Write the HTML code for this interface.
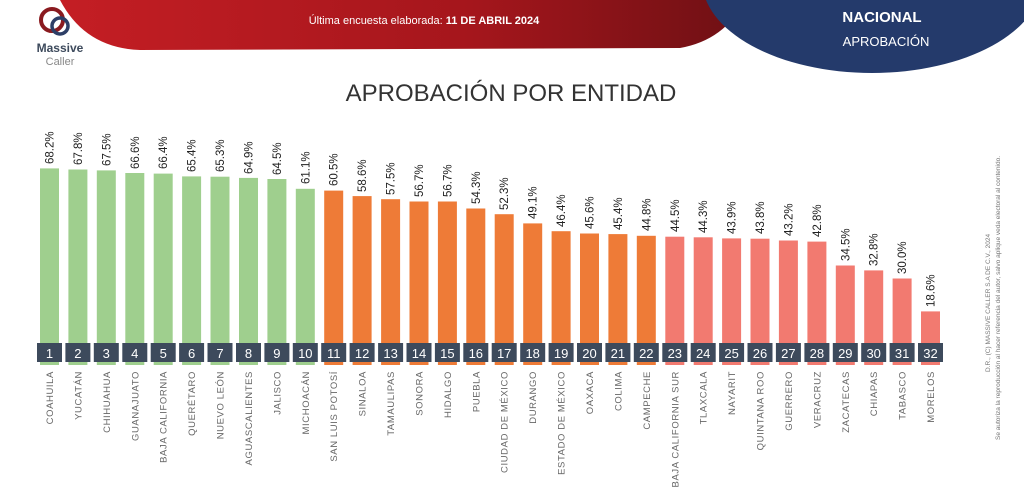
<!DOCTYPE html>
<html><head><meta charset="utf-8"><style>
html,body{margin:0;padding:0;background:#fff;}
svg{display:block;font-family:"Liberation Sans",sans-serif;}
</style></head><body>
<svg width="1024" height="492" viewBox="0 0 1024 492" xmlns="http://www.w3.org/2000/svg">
<defs>
<linearGradient id="rg" x1="0" x2="1" y1="0" y2="0">
<stop offset="0" stop-color="#c41e24"/><stop offset="0.6" stop-color="#a5161c"/><stop offset="1" stop-color="#6e1014"/></linearGradient>
</defs>
<rect width="1024" height="492" fill="#fff"/>
<path d="M60,0 L745,0 Q725,40 680,48 L140,50 Q85,48 60,0 Z" fill="url(#rg)"/>
<ellipse cx="872" cy="-20" rx="170" ry="93" fill="#243a6b"/>
<text x="424" y="24" fill="#fff" font-size="11" text-anchor="middle">Última encuesta elaborada:  <tspan font-weight="bold">11 DE ABRIL 2024</tspan></text>
<text x="882" y="22" fill="#fff" font-size="15" font-weight="bold" text-anchor="middle">NACIONAL</text>
<text x="886" y="46" fill="#fff" font-size="13" text-anchor="middle">APROBACIÓN</text>
<circle cx="52" cy="20" r="11" fill="none" stroke="#8a1a1f" stroke-width="4"/>
<circle cx="60" cy="26" r="8" fill="none" stroke="#2d3e66" stroke-width="3.5"/>
<text x="60" y="52" font-size="12" font-weight="bold" fill="#3d4a5c" text-anchor="middle">Massive</text>
<text x="60" y="65" font-size="11" fill="#888" text-anchor="middle">Caller</text>
<text x="511" y="101" font-size="24" fill="#333" text-anchor="middle">APROBACIÓN POR ENTIDAD</text>
<text transform="translate(990,372) rotate(-90)" font-size="6.5" fill="#777">D.R., (C) MASSIVE CALLER S.A DE C.V., 2024</text>
<text transform="translate(1000,440) rotate(-90)" font-size="6.5" fill="#777">Se autoriza la reproducción al hacer referencia del autor, salvo aplique veda electoral al contenido.</text>
<g id="bars">
<rect x="40.0" y="168.4" width="19" height="196.6" fill="#9fcf8e"/>
<rect x="68.4" y="169.5" width="19" height="195.5" fill="#9fcf8e"/>
<rect x="96.8" y="170.4" width="19" height="194.6" fill="#9fcf8e"/>
<rect x="125.3" y="173.0" width="19" height="192.0" fill="#9fcf8e"/>
<rect x="153.7" y="173.6" width="19" height="191.4" fill="#9fcf8e"/>
<rect x="182.1" y="176.4" width="19" height="188.6" fill="#9fcf8e"/>
<rect x="210.5" y="176.7" width="19" height="188.3" fill="#9fcf8e"/>
<rect x="239.0" y="177.9" width="19" height="187.1" fill="#9fcf8e"/>
<rect x="267.4" y="179.0" width="19" height="186.0" fill="#9fcf8e"/>
<rect x="295.8" y="188.8" width="19" height="176.2" fill="#9fcf8e"/>
<rect x="324.2" y="190.6" width="19" height="174.4" fill="#ee7b37"/>
<rect x="352.6" y="196.1" width="19" height="168.9" fill="#ee7b37"/>
<rect x="381.1" y="199.2" width="19" height="165.8" fill="#ee7b37"/>
<rect x="409.5" y="201.5" width="19" height="163.5" fill="#ee7b37"/>
<rect x="437.9" y="201.5" width="19" height="163.5" fill="#ee7b37"/>
<rect x="466.3" y="208.5" width="19" height="156.5" fill="#ee7b37"/>
<rect x="494.7" y="214.2" width="19" height="150.8" fill="#ee7b37"/>
<rect x="523.2" y="223.4" width="19" height="141.6" fill="#ee7b37"/>
<rect x="551.6" y="231.2" width="19" height="133.8" fill="#ee7b37"/>
<rect x="580.0" y="233.5" width="19" height="131.5" fill="#ee7b37"/>
<rect x="608.4" y="234.1" width="19" height="130.9" fill="#ee7b37"/>
<rect x="636.8" y="235.8" width="19" height="129.2" fill="#ee7b37"/>
<rect x="665.3" y="236.7" width="19" height="128.3" fill="#f27a70"/>
<rect x="693.7" y="237.3" width="19" height="127.7" fill="#f27a70"/>
<rect x="722.1" y="238.4" width="19" height="126.6" fill="#f27a70"/>
<rect x="750.5" y="238.7" width="19" height="126.3" fill="#f27a70"/>
<rect x="778.9" y="240.5" width="19" height="124.5" fill="#f27a70"/>
<rect x="807.4" y="241.6" width="19" height="123.4" fill="#f27a70"/>
<rect x="835.8" y="265.5" width="19" height="99.5" fill="#f27a70"/>
<rect x="864.2" y="270.4" width="19" height="94.6" fill="#f27a70"/>
<rect x="892.6" y="278.5" width="19" height="86.5" fill="#f27a70"/>
<rect x="921.0" y="311.4" width="19" height="53.6" fill="#f27a70"/>
</g>
<g fill="#222" font-size="11.5">
<text transform="translate(53.5,164) rotate(-90)">68.2%</text>
<text transform="translate(81.9,165) rotate(-90)">67.8%</text>
<text transform="translate(110.3,166) rotate(-90)">67.5%</text>
<text transform="translate(138.8,169) rotate(-90)">66.6%</text>
<text transform="translate(167.2,169) rotate(-90)">66.4%</text>
<text transform="translate(195.6,172) rotate(-90)">65.4%</text>
<text transform="translate(224.0,172) rotate(-90)">65.3%</text>
<text transform="translate(252.5,174) rotate(-90)">64.9%</text>
<text transform="translate(280.9,175) rotate(-90)">64.5%</text>
<text transform="translate(309.3,184) rotate(-90)">61.1%</text>
<text transform="translate(337.7,186) rotate(-90)">60.5%</text>
<text transform="translate(366.1,192) rotate(-90)">58.6%</text>
<text transform="translate(394.6,195) rotate(-90)">57.5%</text>
<text transform="translate(423.0,197) rotate(-90)">56.7%</text>
<text transform="translate(451.4,197) rotate(-90)">56.7%</text>
<text transform="translate(479.8,204) rotate(-90)">54.3%</text>
<text transform="translate(508.2,210) rotate(-90)">52.3%</text>
<text transform="translate(536.7,219) rotate(-90)">49.1%</text>
<text transform="translate(565.1,227) rotate(-90)">46.4%</text>
<text transform="translate(593.5,229) rotate(-90)">45.6%</text>
<text transform="translate(621.9,230) rotate(-90)">45.4%</text>
<text transform="translate(650.3,231) rotate(-90)">44.8%</text>
<text transform="translate(678.8,232) rotate(-90)">44.5%</text>
<text transform="translate(707.2,233) rotate(-90)">44.3%</text>
<text transform="translate(735.6,234) rotate(-90)">43.9%</text>
<text transform="translate(764.0,234) rotate(-90)">43.8%</text>
<text transform="translate(792.4,236) rotate(-90)">43.2%</text>
<text transform="translate(820.9,237) rotate(-90)">42.8%</text>
<text transform="translate(849.3,261) rotate(-90)">34.5%</text>
<text transform="translate(877.7,266) rotate(-90)">32.8%</text>
<text transform="translate(906.1,274) rotate(-90)">30.0%</text>
<text transform="translate(934.5,307) rotate(-90)">18.6%</text>
</g>
<g fill="#3d4a5c">
<rect x="37.0" y="343" width="25" height="19"/><rect x="65.4" y="343" width="25" height="19"/><rect x="93.8" y="343" width="25" height="19"/><rect x="122.3" y="343" width="25" height="19"/><rect x="150.7" y="343" width="25" height="19"/><rect x="179.1" y="343" width="25" height="19"/><rect x="207.5" y="343" width="25" height="19"/><rect x="236.0" y="343" width="25" height="19"/><rect x="264.4" y="343" width="25" height="19"/><rect x="292.8" y="343" width="25" height="19"/><rect x="321.2" y="343" width="25" height="19"/><rect x="349.6" y="343" width="25" height="19"/><rect x="378.1" y="343" width="25" height="19"/><rect x="406.5" y="343" width="25" height="19"/><rect x="434.9" y="343" width="25" height="19"/><rect x="463.3" y="343" width="25" height="19"/><rect x="491.7" y="343" width="25" height="19"/><rect x="520.2" y="343" width="25" height="19"/><rect x="548.6" y="343" width="25" height="19"/><rect x="577.0" y="343" width="25" height="19"/><rect x="605.4" y="343" width="25" height="19"/><rect x="633.8" y="343" width="25" height="19"/><rect x="662.3" y="343" width="25" height="19"/><rect x="690.7" y="343" width="25" height="19"/><rect x="719.1" y="343" width="25" height="19"/><rect x="747.5" y="343" width="25" height="19"/><rect x="775.9" y="343" width="25" height="19"/><rect x="804.4" y="343" width="25" height="19"/><rect x="832.8" y="343" width="25" height="19"/><rect x="861.2" y="343" width="25" height="19"/><rect x="889.6" y="343" width="25" height="19"/><rect x="918.0" y="343" width="25" height="19"/>
</g>
<g fill="#fff" font-size="13" text-anchor="middle">
<text x="49.5" y="358">1</text><text x="77.9" y="358">2</text><text x="106.3" y="358">3</text><text x="134.8" y="358">4</text><text x="163.2" y="358">5</text><text x="191.6" y="358">6</text><text x="220.0" y="358">7</text><text x="248.5" y="358">8</text><text x="276.9" y="358">9</text><text x="305.3" y="358">10</text><text x="333.7" y="358">11</text><text x="362.1" y="358">12</text><text x="390.6" y="358">13</text><text x="419.0" y="358">14</text><text x="447.4" y="358">15</text><text x="475.8" y="358">16</text><text x="504.2" y="358">17</text><text x="532.7" y="358">18</text><text x="561.1" y="358">19</text><text x="589.5" y="358">20</text><text x="617.9" y="358">21</text><text x="646.3" y="358">22</text><text x="674.8" y="358">23</text><text x="703.2" y="358">24</text><text x="731.6" y="358">25</text><text x="760.0" y="358">26</text><text x="788.4" y="358">27</text><text x="816.9" y="358">28</text><text x="845.3" y="358">29</text><text x="873.7" y="358">30</text><text x="902.1" y="358">31</text><text x="930.5" y="358">32</text>
</g>
<g fill="#666" font-size="9.5" letter-spacing="0.6" text-anchor="end">
<text transform="translate(53,371) rotate(-90)">COAHUILA</text>
<text transform="translate(81.4,371) rotate(-90)">YUCATÁN</text>
<text transform="translate(109.8,371) rotate(-90)">CHIHUAHUA</text>
<text transform="translate(138.3,371) rotate(-90)">GUANAJUATO</text>
<text transform="translate(166.7,371) rotate(-90)">BAJA CALIFORNIA</text>
<text transform="translate(195.1,371) rotate(-90)">QUERÉTARO</text>
<text transform="translate(223.5,371) rotate(-90)">NUEVO LEÓN</text>
<text transform="translate(252,371) rotate(-90)">AGUASCALIENTES</text>
<text transform="translate(280.4,371) rotate(-90)">JALISCO</text>
<text transform="translate(308.8,371) rotate(-90)">MICHOACÁN</text>
<text transform="translate(337.2,371) rotate(-90)">SAN LUIS POTOSÍ</text>
<text transform="translate(365.6,371) rotate(-90)">SINALOA</text>
<text transform="translate(394.1,371) rotate(-90)">TAMAULIPAS</text>
<text transform="translate(422.5,371) rotate(-90)">SONORA</text>
<text transform="translate(450.9,371) rotate(-90)">HIDALGO</text>
<text transform="translate(479.3,371) rotate(-90)">PUEBLA</text>
<text transform="translate(507.7,371) rotate(-90)">CIUDAD DE MÉXICO</text>
<text transform="translate(536.2,371) rotate(-90)">DURANGO</text>
<text transform="translate(564.6,371) rotate(-90)">ESTADO DE MÉXICO</text>
<text transform="translate(593,371) rotate(-90)">OAXACA</text>
<text transform="translate(621.4,371) rotate(-90)">COLIMA</text>
<text transform="translate(649.8,371) rotate(-90)">CAMPECHE</text>
<text transform="translate(678.3,371) rotate(-90)">BAJA CALIFORNIA SUR</text>
<text transform="translate(706.7,371) rotate(-90)">TLAXCALA</text>
<text transform="translate(735.1,371) rotate(-90)">NAYARIT</text>
<text transform="translate(763.5,371) rotate(-90)">QUINTANA ROO</text>
<text transform="translate(791.9,371) rotate(-90)">GUERRERO</text>
<text transform="translate(820.4,371) rotate(-90)">VERACRUZ</text>
<text transform="translate(848.8,371) rotate(-90)">ZACATECAS</text>
<text transform="translate(877.2,371) rotate(-90)">CHIAPAS</text>
<text transform="translate(905.6,371) rotate(-90)">TABASCO</text>
<text transform="translate(934,371) rotate(-90)">MORELOS</text>
</g>
</svg>
</body></html>
